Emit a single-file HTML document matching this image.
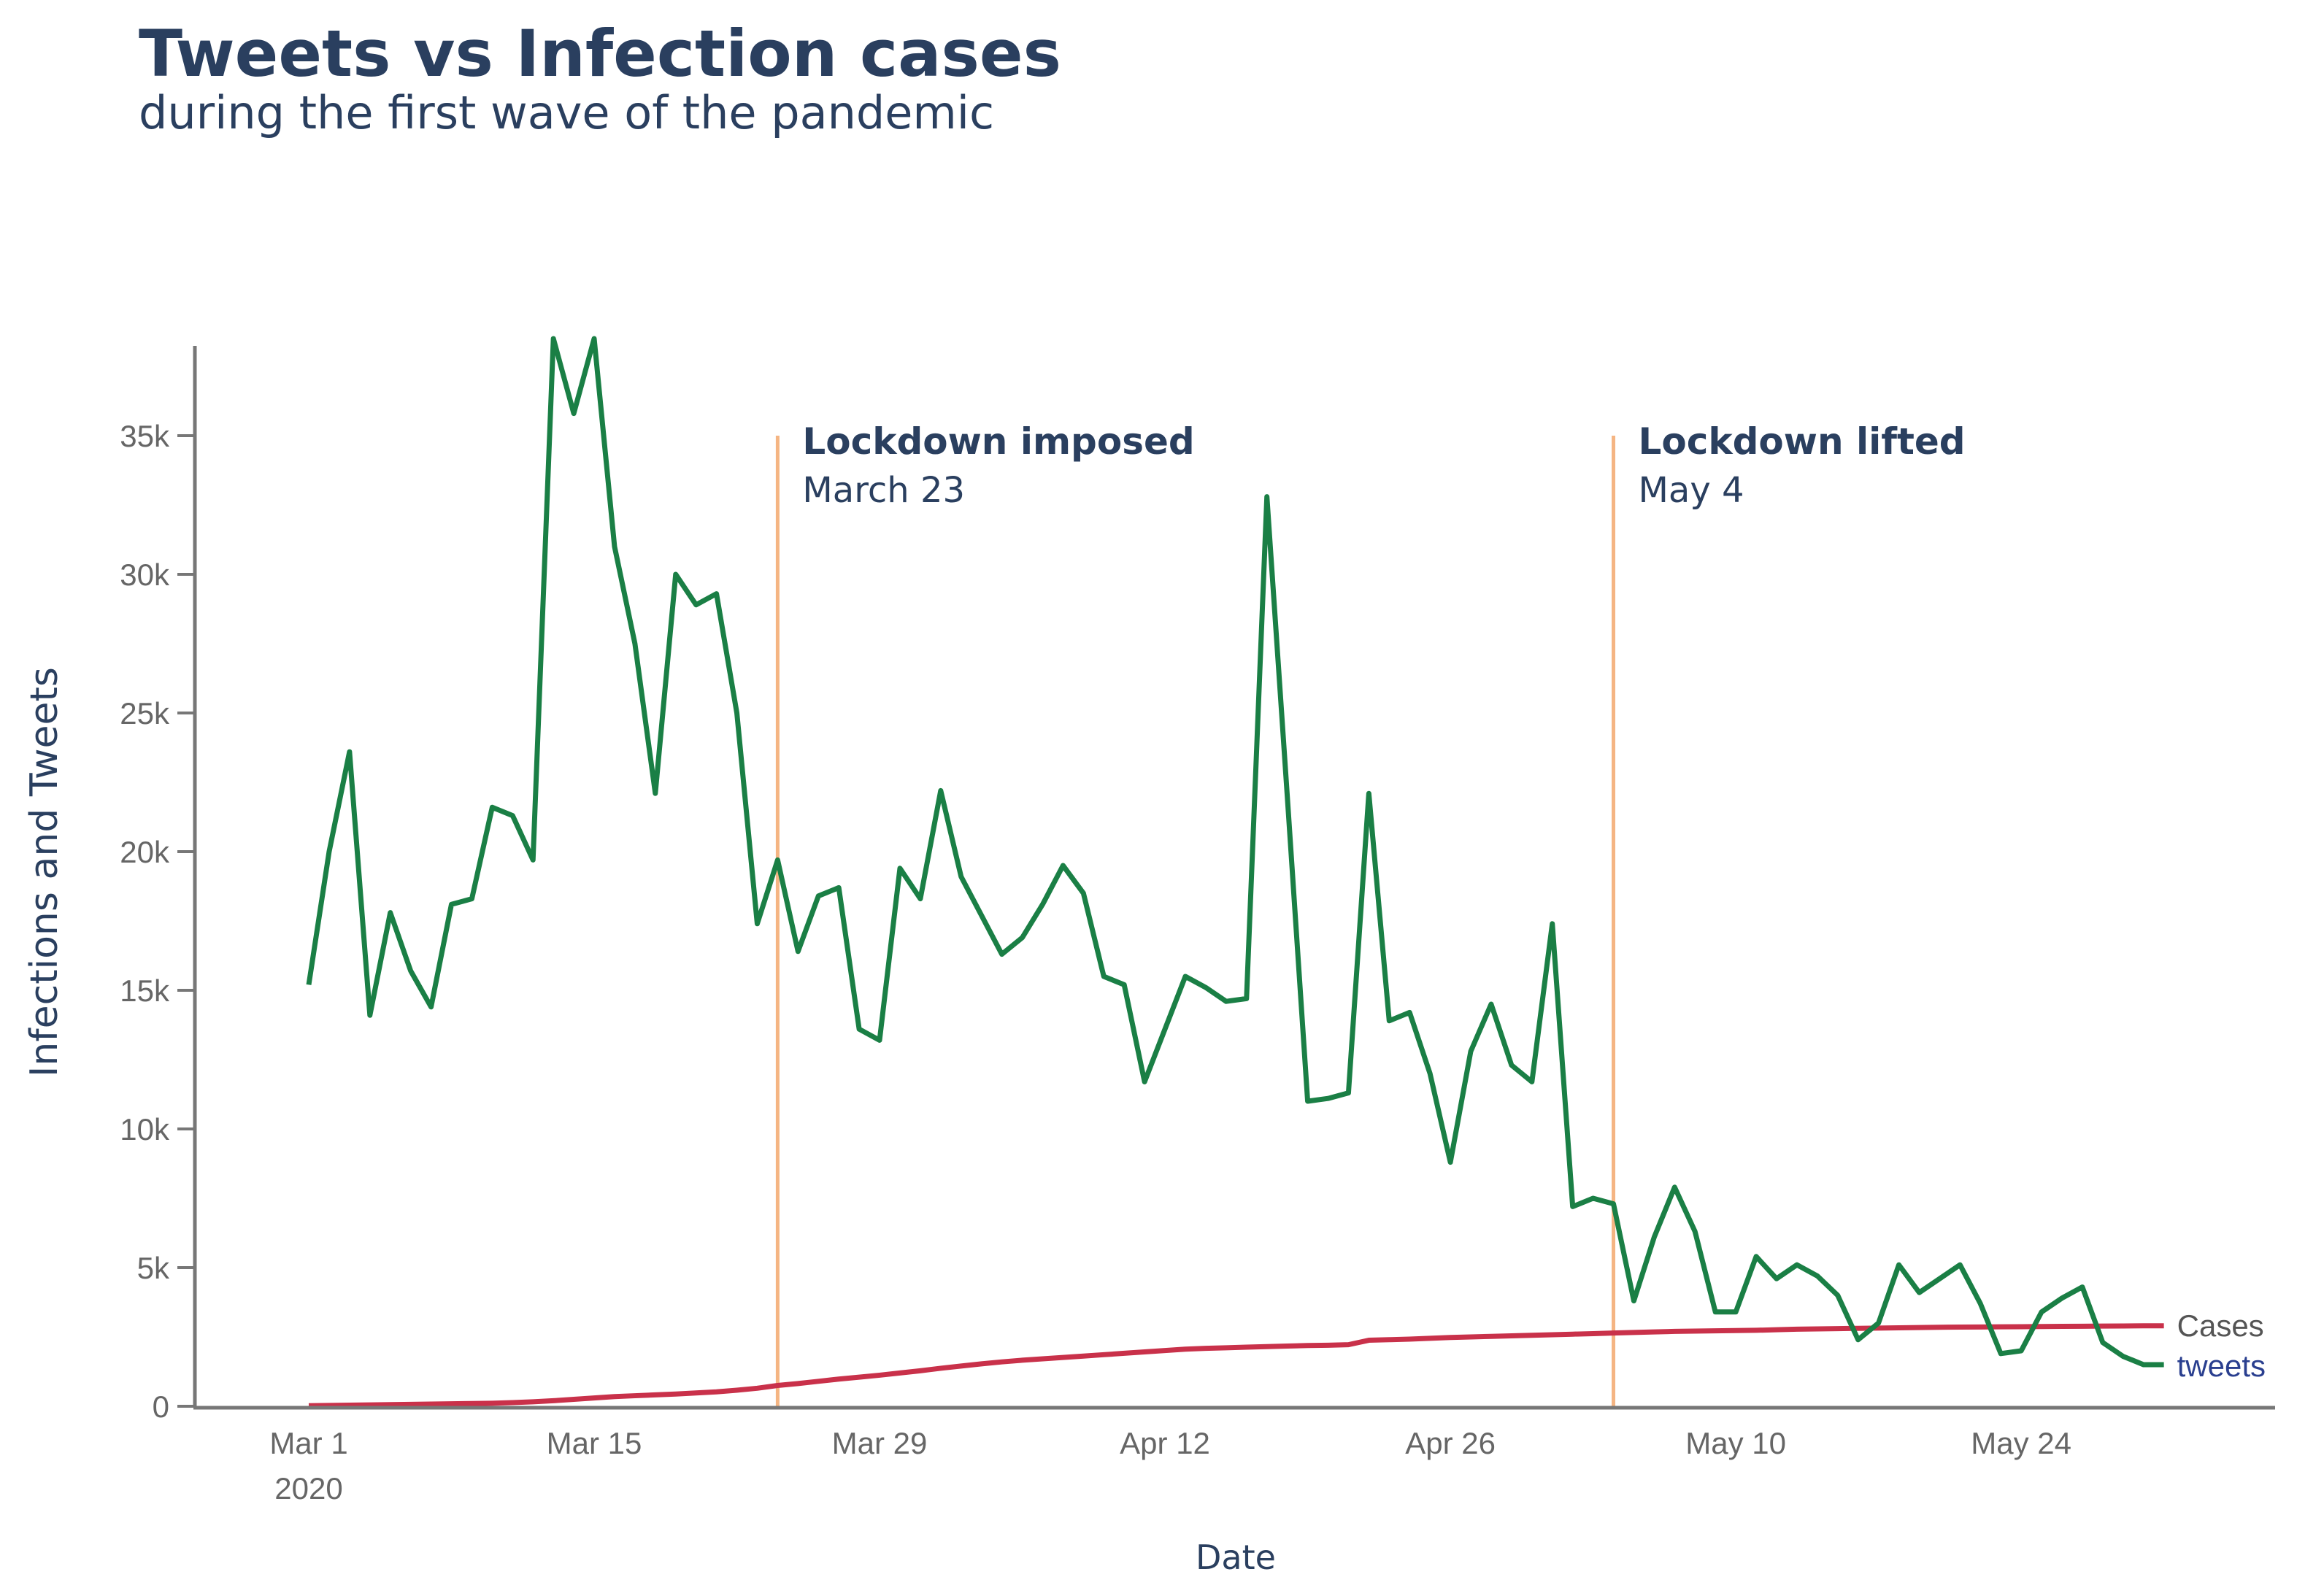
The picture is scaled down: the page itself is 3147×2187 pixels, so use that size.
<!DOCTYPE html>
<html><head><meta charset="utf-8"><style>
html,body{margin:0;padding:0;background:#fff;}
svg{display:block;font-family:"Liberation Sans",sans-serif;}
</style></head><body>
<svg id="chart" width="3147" height="2187" viewBox="0 0 3147 2187" xmlns="http://www.w3.org/2000/svg">
<text x="190" y="104" font-family="DejaVu Sans, sans-serif" font-weight="bold" font-size="88" fill="#2a3f5f">Tweets vs Infection cases</text>
<text x="190" y="176" font-family="DejaVu Sans, sans-serif" font-size="62" fill="#2a3f5f">during the first wave of the pandemic</text>
<g id="plot"></g>
</svg>
<script>
const tweets = [15200,20000,23600,14100,17800,15700,14400,18100,18300,21600,21300,19700,38500,35800,38500,31000,27500,22100,30000,28900,29300,25000,17400,19700,16400,18400,18700,13600,13200,19400,18300,22200,19100,17700,16300,16900,18100,19500,18500,15500,15200,11700,13600,15500,15100,14600,14700,32800,22000,11000,11100,11300,22100,13900,14200,12000,8800,12800,14500,12300,11700,17400,7200,7500,7300,3800,6100,7900,6300,3400,3400,5400,4600,5100,4700,4000,2400,3000,5100,4100,4600,5100,3700,1900,2000,3400,3900,4300,2300,1800,1500,1500];
const cases = [20,30,40,50,60,70,80,90,100,110,130,160,200,250,300,350,380,410,440,480,520,580,650,750,820,900,980,1050,1120,1200,1280,1370,1450,1530,1600,1660,1710,1760,1810,1860,1910,1960,2010,2060,2090,2110,2130,2150,2170,2190,2200,2220,2380,2400,2420,2450,2480,2500,2520,2540,2560,2580,2600,2620,2640,2660,2680,2700,2710,2720,2730,2740,2760,2780,2790,2800,2810,2820,2830,2840,2850,2855,2860,2865,2870,2875,2880,2885,2890,2895,2900,2900];
const yTicks = [0,5000,10000,15000,20000,25000,30000,35000];
const yTickLabels = ["0","5k","10k","15k","20k","25k","30k","35k"];
const xTickDays = [0,14,28,42,56,70,84];
const xTickLabels = ["Mar 1","Mar 15","Mar 29","Apr 12","Apr 26","May 10","May 24"];
const events = [{day:23,title:"Lockdown imposed",sub:"March 23"},{day:64,title:"Lockdown lifted",sub:"May 4"}];

const NS="http://www.w3.org/2000/svg";
const g=document.getElementById('plot');
const X=d=>423+d*27.93;
const Y=v=>1927-v*(1330/35000);
function mk(tag,attrs,parent){const e=document.createElementNS(NS,tag);for(const k in attrs)e.setAttribute(k,attrs[k]);(parent||g).appendChild(e);return e;}

yTicks.forEach((v,i)=>{
  const t=mk('line',{x1:243,x2:265,y1:Y(v),y2:Y(v),stroke:'#777','stroke-width':4});
  
  
  const l=mk('text',{x:232,y:Y(v)+15,'text-anchor':'end','font-size':42,fill:'#666'});
  l.textContent=yTickLabels[i];
  
  
});
xTickDays.forEach((d,i)=>{
  const l=mk('text',{x:X(d),y:1992,'text-anchor':'middle','font-size':42,fill:'#666'});
  l.textContent=xTickLabels[i];
  
  
});
const yr=mk('text',{x:X(0),y:2054,'text-anchor':'middle','font-size':42,fill:'#666'});
yr.textContent='2020';



events.forEach(ev=>{
  const ln=mk('line',{x1:X(ev.day),x2:X(ev.day),y1:Y(35000),y2:1927,stroke:'#f5b583','stroke-width':5});
  
  
  const t=mk('text',{x:X(ev.day)+34,y:622,'font-size':50,'font-weight':'bold',fill:'#2a3f5f','font-family':'DejaVu Sans, sans-serif'});
  t.textContent=ev.title;
  
  
  const s=mk('text',{x:X(ev.day)+34,y:688,'font-size':48,fill:'#2a3f5f','font-family':'DejaVu Sans, sans-serif'});
  s.textContent=ev.sub;
  
  
});

const cp=mk('polyline',{points:cases.map((v,i)=>X(i)+','+Y(v)).join(' '),fill:'none',stroke:'#c9314a','stroke-width':7,'stroke-linejoin':'round'});


const tp=mk('polyline',{points:tweets.map((v,i)=>X(i)+','+Y(v)).join(' '),fill:'none',stroke:'#1a7f45','stroke-width':7,'stroke-linejoin':'round'});



const cl=mk('text',{x:X(cases.length-1)+18,y:Y(cases[cases.length-1])+14,'font-size':42,fill:'#555'});
cl.textContent='Cases';


const tl=mk('text',{x:X(tweets.length-1)+18,y:Y(tweets[tweets.length-1])+16,'font-size':42,fill:'#2a3f8f'});
tl.textContent='tweets';



const ya=mk('line',{x1:267,x2:267,y1:474,y2:1929,stroke:'#777','stroke-width':5});


const xa=mk('line',{x1:265,x2:3117,y1:1929,y2:1929,stroke:'#777','stroke-width':5});



const xt=mk('text',{x:1693,y:2150,'text-anchor':'middle','font-size':46,fill:'#2a3f5f','font-family':'DejaVu Sans, sans-serif'});
xt.textContent='Date';


const yt=mk('text',{x:0,y:0,'text-anchor':'middle','font-size':52,fill:'#2a3f5f','font-family':'DejaVu Sans, sans-serif',transform:'translate(78,1195) rotate(-90)'});
yt.textContent='Infections and Tweets';


</script>
</body></html>
